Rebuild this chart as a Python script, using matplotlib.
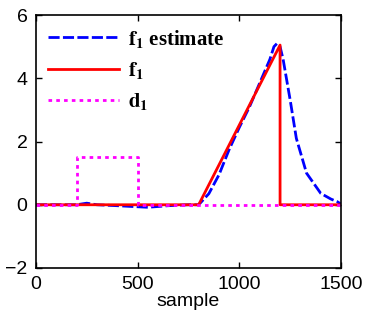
import matplotlib
matplotlib.use("Agg")
import matplotlib.pyplot as plt

# true fault signal f1
f1_x = [0, 800, 1200, 1200, 1500]
f1_y = [0, 0, 5.05, 0, 0]

# disturbance d1
d1_x = [0, 200, 200, 500, 500, 1500]
d1_y = [0, 0, 1.5, 1.5, 0, 0]

# observer estimate of f1
est_x = [0, 200, 250, 300, 400, 550, 650, 750, 800, 850, 900, 950, 1000, 1050,
         1100, 1150, 1170, 1185, 1200, 1215, 1250, 1280, 1330, 1400, 1450, 1480, 1500]
est_y = [0, 0, 0.05, 0, -0.03, -0.08, -0.03, 0, 0, 0.35, 0.95, 1.75, 2.45, 3.1,
         3.85, 4.6, 5.0, 5.1, 5.0, 4.6, 3.3, 2.1, 1.0, 0.36, 0.18, 0.1, 0.02]

plt.rcParams['font.family'] = 'Liberation Sans'
plt.rcParams['mathtext.fontset'] = 'stix'

fig = plt.figure(figsize=(3.66, 3.2), dpi=100)
ax = fig.add_axes([0.098, 0.1625, 0.834, 0.7905])

ax.plot(est_x, est_y, color='#0000ff', lw=2, dashes=(4, 1.2), label=r'$\mathbf{f_1}$ estimate')
ax.plot(f1_x, f1_y, color='#ff0000', lw=2, label=r'$\mathbf{f_1}$')
ax.plot(d1_x, d1_y, color='#ff00ff', lw=2, dashes=(1.3, 1.5), label=r'$\mathbf{d_1}$')

ax.set_xlim(0, 1500)
ax.set_ylim(-2, 6)
ax.set_xticks([0, 500, 1000, 1500])
ax.set_yticks([-2, 0, 2, 4, 6])
ax.tick_params(direction='in', length=4, width=1, top=True, right=True, labelsize=14)
ax.tick_params(axis='x', pad=6)
ax.tick_params(axis='y', pad=6)
for s in ax.spines.values():
    s.set_linewidth(1.2)
ax.set_xlabel('sample', fontsize=14, labelpad=0)

ax.legend(loc='upper left', frameon=False, handlelength=3.4, labelspacing=0.5,
          borderaxespad=0.2, handletextpad=0.4,
          prop={'family': 'Liberation Serif', 'weight': 'bold', 'size': 15})

fig.savefig('out.png', dpi=100)
